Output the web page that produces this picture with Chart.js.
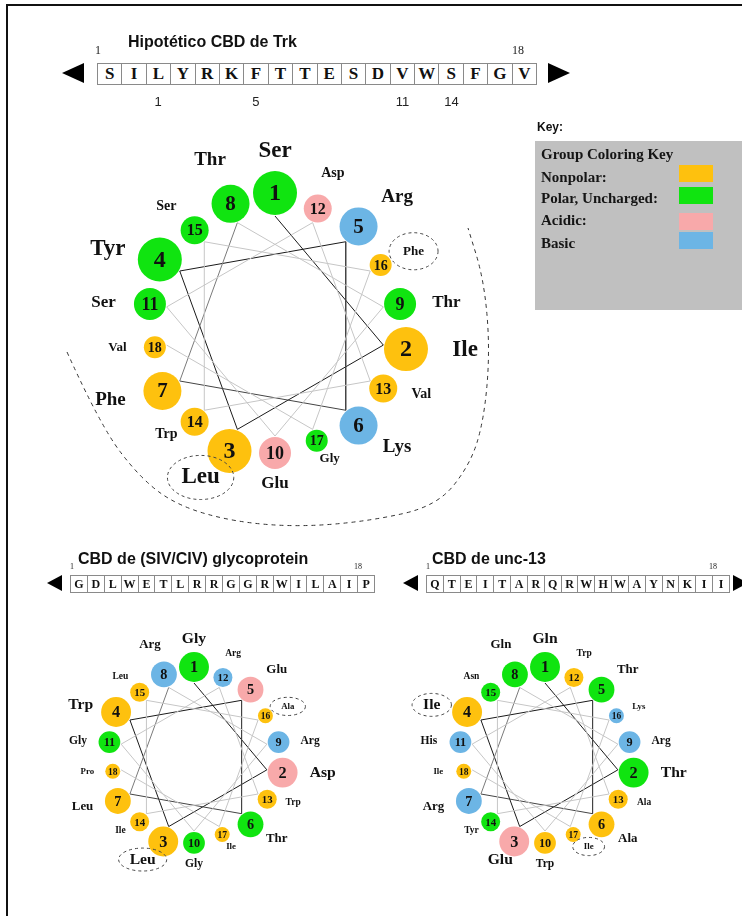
<!DOCTYPE html>
<html>
<head>
<meta charset="utf-8">
<title>Helical wheels</title>
<script src="https://cdn.jsdelivr.net/npm/chart.js@4.4.1/dist/chart.umd.min.js"></script>
<style>
  body { margin: 0; background: #fff; }
  #page { position: relative; width: 742px; height: 916px; overflow: hidden; background: #fff; }
  #frame { position: absolute; left: 6px; top: 4px; width: 900px; height: 1000px; border-top: 2px solid #111; border-left: 2px solid #111; }
  #wheels { position: absolute; left: 0; top: 0; }
  .abs { position: absolute; white-space: nowrap; }
  .title { font: bold 16px "Liberation Sans", Arial, sans-serif; color: #111; line-height: 16px; }
  .idx { font-family: "Liberation Serif", serif; color: #222; }
  .mark { font: 13px "Liberation Sans", Arial, sans-serif; color: #222; }
  .seq { position: absolute; display: flex; border: 1px solid #8a8a8a; box-sizing: border-box; background: #fff; }
  .seq span { flex: 1; text-align: center; font-family: "Liberation Serif", serif; font-weight: bold; color: #111; border-left: 1px solid #8a8a8a; }
  .seq span:first-child { border-left: none; }
  .tri { position: absolute; width: 0; height: 0; border-style: solid; border-color: transparent; }
  #key { position: absolute; left: 535px; top: 141px; width: 220px; height: 169px; background: #c0c0c0; }
  .keytxt { font: bold 15px "Liberation Serif", serif; color: #151515; line-height: 16px; }
</style>
</head>
<body>
<div id="page">
  <div id="frame"></div>
  <canvas id="wheels" width="742" height="916"></canvas>
  <div class="abs" style="left:537px;top:120px;font:bold 12px 'Liberation Sans',Arial,sans-serif;color:#111;">Key:</div>
  <div id="key"></div>
</div>
<script>
// sequences (one-letter codes, residue 1 first)
const trkSeq = ['S','I','L','Y','R','K','F','T','T','E','S','D','V','W','S','F','G','V'];
const glycoSeq = ['G','D','L','W','E','T','L','R','R','G','G','R','W','I','L','A','I','P'];
const unc13Seq = ['Q','T','E','I','T','A','R','Q','R','W','H','W','A','Y','N','K','I','I'];

// residues whose names are ringed with a dashed ellipse
const trkCircled = [3, 16];
const glycoCircled = [3, 16];
const unc13Circled = [4, 17];

// numbers written under the Trk sequence, and the cells they sit under
const trkMarks = ['1', '5', '11', '14'];
const trkMarkCells = [3, 7, 13, 15];

// key
const groupNames = ['nonpolar', 'polar', 'acidic', 'basic'];
const groupLabels = ['Nonpolar:', 'Polar, Uncharged:', 'Acidic:', 'Basic'];
const groupColors = ['#fec10e', '#10e410', '#f8a9aa', '#6cb5e5'];

const aminoNames = { A:'Ala', R:'Arg', N:'Asn', D:'Asp', E:'Glu', Q:'Gln', G:'Gly', H:'His', I:'Ile', L:'Leu',
  K:'Lys', F:'Phe', P:'Pro', S:'Ser', T:'Thr', W:'Trp', Y:'Tyr', V:'Val' };
const aminoGroup = { A:'nonpolar', I:'nonpolar', L:'nonpolar', F:'nonpolar', P:'nonpolar', W:'nonpolar', V:'nonpolar',
  S:'polar', T:'polar', Y:'polar', G:'polar', Q:'polar', N:'polar',
  D:'acidic', E:'acidic', R:'basic', K:'basic', H:'basic' };

function colorOf(aa) { return groupColors[groupNames.indexOf(aminoGroup[aa])]; }

// ---- html parts: titles, sequence strips, key ----
const page = document.getElementById('page');
function addDiv(cls, style, text) {
  const d = document.createElement('div');
  d.className = cls;
  d.style.cssText = style;
  if (text !== undefined) d.textContent = text;
  page.appendChild(d);
  return d;
}
function arrow(x, y, w, h, dir) {
  const side = dir === 'left' ? 'border-right' : 'border-left';
  addDiv('tri', `left:${x}px;top:${y}px;border-width:${h/2}px ${dir==='left'?w:0}px ${h/2}px ${dir==='left'?0:w}px;${side}-color:#000;`);
}
function seqStrip(seq, x, y, w, h, font) {
  const bar = addDiv('seq', `left:${x}px;top:${y}px;width:${w}px;height:${h}px;`);
  seq.forEach(aa => {
    const s = document.createElement('span');
    s.textContent = aa;
    s.style.fontSize = font + 'px';
    s.style.lineHeight = (h - 2) + 'px';
    bar.appendChild(s);
  });
}

addDiv('abs title', 'left:128px;top:34px;', 'Hipotético CBD de Trk');
addDiv('abs idx', 'left:95px;top:43px;font-size:12px;', '1');
addDiv('abs idx', 'left:512px;top:43px;font-size:12px;', trkSeq.length);
arrow(62, 63, 22, 21, 'left');
seqStrip(trkSeq, 97, 63, 440, 22, 17);
arrow(548, 63, 22, 21, 'right');
trkMarks.forEach((m, i) => {
  const cw = 440 / trkSeq.length;
  addDiv('abs mark', `left:${97 + (trkMarkCells[i] - 0.5) * cw - 20}px;top:94px;width:40px;text-align:center;`, m);
});

addDiv('abs title', 'left:78px;top:551px;', 'CBD de (SIV/CIV) glycoprotein');
addDiv('abs idx', 'left:70px;top:562px;font-size:8px;', '1');
addDiv('abs idx', 'left:354px;top:562px;font-size:8px;', glycoSeq.length);
arrow(47, 575, 15, 17, 'left');
seqStrip(glycoSeq, 70, 575, 305, 18, 12);

addDiv('abs title', 'left:432px;top:551px;', 'CBD de unc-13');
addDiv('abs idx', 'left:426px;top:562px;font-size:8px;', '1');
addDiv('abs idx', 'left:709px;top:562px;font-size:8px;', unc13Seq.length);
arrow(403, 575, 15, 17, 'left');
seqStrip(unc13Seq, 426, 575, 304, 18, 12);
arrow(733, 575, 15, 17, 'right');

addDiv('abs keytxt', 'left:541px;top:146px;', 'Group Coloring Key');
const keyRowY = [169, 190, 212, 235];
const keySwatchY = [165, 187, 213, 232];
groupLabels.forEach((lab, i) => {
  addDiv('abs keytxt', `left:541px;top:${keyRowY[i]}px;`, lab);
  addDiv('abs', `left:679px;top:${keySwatchY[i]}px;width:34px;height:17px;background:${groupColors[i]};`);
});

// ---- helical wheels ----
// size tiers: residues 1-4, 5-8, 9-11, 12-15, 16-18
function tierOf(n) { return n <= 4 ? 0 : n <= 8 ? 1 : n <= 11 ? 2 : n <= 15 ? 3 : 4; }
const circleR = [22, 19, 16, 14, 11];
const numFont = [24, 21, 18, 16, 14];
const nameFont = [23, 19, 17, 14, 13];
// name offset from its circle: sideways, upwards, downwards
const nameKx = [60, 60, 47, 44, 38];
const nameKyUp = [42, 50, 40, 40, 55];
const nameKyDown = [30, 36, 31, 22, 20];

// rIn: inner radius where the circles' inner edges and the connecting lines sit
const wheels = [
  { seq: trkSeq, circled: trkCircled, cx: 275, cy: 326, rIn: 111, s: 1, padX: 14, padY: 14 },
  { seq: glycoSeq, circled: glycoCircled, cx: 194, cy: 757, rIn: 75, s: 0.68, padX: 11, padY: 6 },
  { seq: unc13Seq, circled: unc13Circled, cx: 545, cy: 757, rIn: 75, s: 0.68, padX: 11, padY: 6 }
];

// 100 degrees per residue, residue 1 at the top, clockwise
function helixAngle(i) { return i * 100 * Math.PI / 180; }
function circleRadius(w, i) { return circleR[tierOf(i + 1)] * w.s; }
function wheelPoints(w, extra) {
  return w.seq.map((aa, i) => {
    const r = w.rIn + (extra ? circleRadius(w, i) : -1);
    return { x: w.cx + r * Math.sin(helixAngle(i)), y: w.cy - r * Math.cos(helixAngle(i)) };
  });
}
function segShade(i) { return i < 4 ? '#1a1a1a' : i < 6 ? '#444' : i < 7 ? '#7a7a7a' : '#c6c6c6'; }

const datasets = [];
wheels.forEach(w => {
  datasets.push({
    data: wheelPoints(w, false),
    showLine: true,
    borderWidth: 1,
    borderColor: '#c6c6c6',
    tension: 0,
    pointRadius: 0,
    pointHoverRadius: 0,
    segment: { borderColor: c => segShade(c.p0DataIndex) },
    order: 2
  });
  datasets.push({
    data: wheelPoints(w, true),
    showLine: false,
    pointRadius: w.seq.map((aa, i) => circleRadius(w, i)),
    pointHoverRadius: w.seq.map((aa, i) => circleRadius(w, i)),
    pointBackgroundColor: w.seq.map(colorOf),
    pointBorderWidth: 0,
    order: 1
  });
});

// dashed outline drawn around the hydrophobic face of the Trk wheel
const trkFace = [[67,352],[100,425],[140,478],[178,506],[235,522],[300,527],[370,521],[437,506],[470,465],
  [484,420],[490,350],[484,280],[468,228]];

const wheelText = {
  id: 'wheelText',
  afterDatasetsDraw(chart) {
    const ctx = chart.ctx, xs = chart.scales.x, ys = chart.scales.y;
    ctx.save();
    ctx.textAlign = 'center';
    ctx.textBaseline = 'middle';
    wheels.forEach(w => {
      const centres = wheelPoints(w, true);
      w.seq.forEach((aa, i) => {
        const n = i + 1, t = tierOf(n), a = helixAngle(i);
        const vx = centres[i].x, vy = centres[i].y;
        const px = xs.getPixelForValue(vx), py = ys.getPixelForValue(vy);
        ctx.fillStyle = '#111';
        ctx.font = `bold ${numFont[t] * w.s}px "Liberation Serif", serif`;
        ctx.fillText(String(n), px, py + 1);

        const name = aminoNames[aa];
        const ringed = w.circled.includes(n);
        const f = nameFont[t] * w.s;
        ctx.font = `bold ${f}px "Liberation Serif", serif`;
        const tw = ctx.measureText(name).width;
        const c = Math.cos(a), sn = Math.sin(a);
        const ky = c > 0 ? nameKyUp[t] : nameKyDown[t];
        // ringed names below the wheel are nudged sideways, clear of their circle
        const nudge = ringed && c < 0 ? Math.sign(sn) * w.padX * 0.6 : 0;
        const lx = xs.getPixelForValue(vx + sn * nameKx[t] * w.s + nudge);
        const ly = ys.getPixelForValue(vy - c * Math.abs(c) * ky * w.s);
        ctx.fillText(name, lx, ly);
        if (ringed) {
          ctx.beginPath();
          ctx.setLineDash([3, 3]);
          ctx.strokeStyle = '#444';
          ctx.lineWidth = 1;
          ctx.ellipse(lx, ly, tw / 2 + w.padX, f * 0.35 + w.padY, 0, 0, Math.PI * 2);
          ctx.stroke();
          ctx.setLineDash([]);
        }
      });
    });
    // hydrophobic face outline
    const p = trkFace.map(q => [xs.getPixelForValue(q[0]), ys.getPixelForValue(q[1])]);
    ctx.beginPath();
    ctx.setLineDash([4, 4]);
    ctx.strokeStyle = '#333';
    ctx.lineWidth = 1;
    ctx.moveTo(p[0][0], p[0][1]);
    for (let i = 1; i < p.length - 1; i++) {
      ctx.quadraticCurveTo(p[i][0], p[i][1], (p[i][0] + p[i + 1][0]) / 2, (p[i][1] + p[i + 1][1]) / 2);
    }
    ctx.lineTo(p[p.length - 1][0], p[p.length - 1][1]);
    ctx.stroke();
    ctx.restore();
  }
};

new Chart(document.getElementById('wheels').getContext('2d'), {
  type: 'scatter',
  data: { datasets: datasets },
  options: {
    responsive: false,
    animation: false,
    devicePixelRatio: 1,
    layout: { padding: 0, autoPadding: false },
    events: [],
    plugins: { legend: { display: false }, tooltip: { enabled: false } },
    scales: {
      x: { type: 'linear', min: 0, max: 742, display: false },
      y: { type: 'linear', min: 0, max: 916, reverse: true, display: false }
    }
  },
  plugins: [wheelText]
});
</script>
</body>
</html>
